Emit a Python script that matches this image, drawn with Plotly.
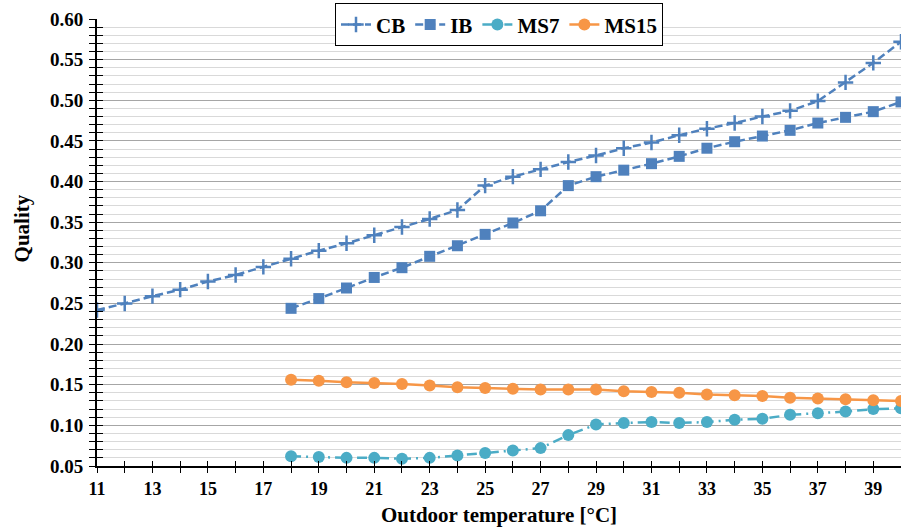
import plotly.graph_objects as go

temps_cb = list(range(11, 41))
cb = [0.242, 0.250, 0.259, 0.267, 0.277, 0.285, 0.295, 0.305, 0.315, 0.324,
      0.334, 0.344, 0.354, 0.365, 0.395, 0.406, 0.415, 0.424, 0.432, 0.441,
      0.448, 0.457, 0.465, 0.472, 0.480, 0.487, 0.499, 0.522, 0.546, 0.572]

temps = list(range(18, 41))
ib = [0.244, 0.256, 0.269, 0.282, 0.294, 0.308, 0.321, 0.335, 0.349, 0.364,
      0.395, 0.406, 0.414, 0.422, 0.431, 0.441, 0.449, 0.456, 0.463, 0.472,
      0.479, 0.486, 0.498]
ms7 = [0.062, 0.061, 0.060, 0.060, 0.059, 0.060, 0.063, 0.066, 0.069, 0.072,
       0.088, 0.101, 0.103, 0.104, 0.103, 0.104, 0.107, 0.108, 0.113, 0.115,
       0.117, 0.120, 0.121]
ms15 = [0.156, 0.155, 0.153, 0.152, 0.151, 0.149, 0.147, 0.146, 0.145, 0.144,
        0.144, 0.144, 0.142, 0.141, 0.140, 0.138, 0.137, 0.136, 0.134, 0.133,
        0.132, 0.131, 0.130]

x_ticks = list(range(11, 41, 2))

BLUE = "#4F81BD"
TEAL = "#4BACC6"
ORANGE = "#F79646"
FONT = "Liberation Serif"

fig = go.Figure()
fig.add_trace(go.Scatter(x=temps_cb, y=cb, name="CB", mode="lines+markers",
                         line=dict(color=BLUE, width=2.5, dash="8px,4px"),
                         marker=dict(symbol="cross-thin", size=11,
                                     line=dict(color=BLUE, width=2.5))))
fig.add_trace(go.Scatter(x=temps, y=ib, name="IB", mode="lines+markers",
                         line=dict(color=BLUE, width=2.5, dash="8px,4px"),
                         marker=dict(symbol="square", size=11, color=BLUE)))
fig.add_trace(go.Scatter(x=temps, y=ms7, name="MS7", mode="lines+markers",
                         line=dict(color=TEAL, width=2.5, dash="10px,5px,2px,5px"),
                         marker=dict(symbol="circle", size=12, color=TEAL)))
fig.add_trace(go.Scatter(x=temps, y=ms15, name="MS15", mode="lines+markers",
                         line=dict(color=ORANGE, width=2.5),
                         marker=dict(symbol="circle", size=12, color=ORANGE)))

fig.update_layout(
    width=901, height=531,
    margin=dict(l=97, r=0, t=19, b=65),
    plot_bgcolor="white", paper_bgcolor="white",
    font=dict(family=FONT, color="black"),
    showlegend=True,
    legend=dict(orientation="h", x=0.5, xanchor="center", y=1.035, yanchor="top",
                bgcolor="white", bordercolor="black", borderwidth=1,
                font=dict(family=FONT, size=21, color="black", weight="bold"),
                itemwidth=30, tracegroupgap=0),
    xaxis=dict(range=[11, 40], tickvals=x_ticks, ticks="outside", ticklen=5,
               tickwidth=1.2, tickcolor="black", showgrid=False, zeroline=False,
               showline=True, linecolor="black", linewidth=1.8,
               tickfont=dict(family=FONT, size=18, color="black", weight="bold"),
               minor=dict(dtick=1, tick0=11, ticks="outside", ticklen=5,
                          tickwidth=1.2, tickcolor="black", showgrid=False),
               title=dict(text="Outdoor temperature [°C]", standoff=10,
                          font=dict(family=FONT, size=21, color="black", weight="bold"))),
    yaxis=dict(range=[0.05, 0.60], dtick=0.05, tick0=0.05, tickformat=".2f",
               ticks="outside", ticklen=6, tickwidth=1.2, tickcolor="black",
               showgrid=True, gridcolor="#A6A6A6", gridwidth=1, zeroline=False,
               showline=True, linecolor="black", linewidth=1.8,
               tickfont=dict(family=FONT, size=19, color="black", weight="bold"),
               ticklabelstandoff=2,
               minor=dict(dtick=0.01, tick0=0.05, ticks="outside", ticklen=6,
                          tickwidth=1.2, tickcolor="black", showgrid=True,
                          gridcolor="#D9D9D9", gridwidth=1)),
    xaxis2=dict(overlaying="x", range=[11, 40], tickvals=x_ticks, ticks="inside",
                ticklen=5, tickwidth=1.2, tickcolor="black", showticklabels=False,
                showgrid=False, zeroline=False, showline=False,
                minor=dict(dtick=1, tick0=11, ticks="inside", ticklen=5,
                           tickwidth=1.2, tickcolor="black", showgrid=False)),
    yaxis2=dict(overlaying="y", range=[0.05, 0.60], dtick=0.05, tick0=0.05,
                ticks="inside", ticklen=6, tickwidth=1.2, tickcolor="black",
                showticklabels=False, showgrid=False, zeroline=False, showline=False,
                minor=dict(dtick=0.01, tick0=0.05, ticks="inside", ticklen=6,
                           tickwidth=1.2, tickcolor="black", showgrid=False)),
    annotations=[dict(text="Quality", xref="paper", yref="paper",
                      x=-0.093, y=0.532, xanchor="center", yanchor="middle",
                      textangle=-90, showarrow=False,
                      font=dict(family=FONT, size=21, color="black", weight="bold"))],
)
fig.add_trace(go.Scatter(x=[], y=[], xaxis="x2", yaxis="y2", showlegend=False,
                         hoverinfo="skip"))

fig.write_html("out.html")
